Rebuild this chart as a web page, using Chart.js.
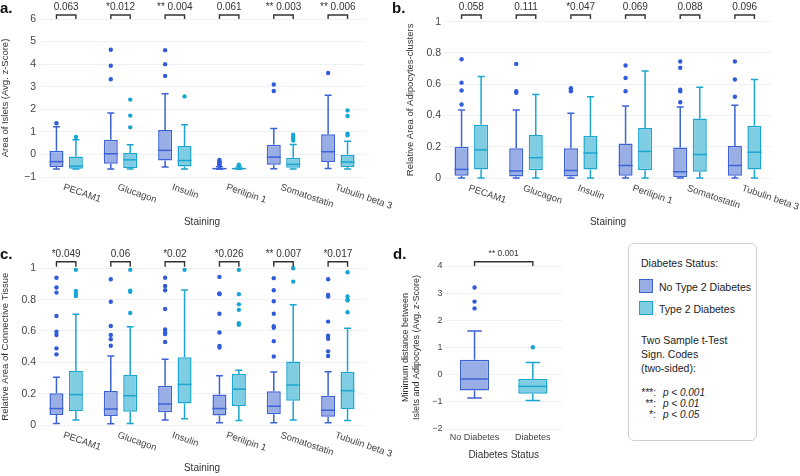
<!DOCTYPE html>
<html><head><meta charset="utf-8">
<script src="https://cdn.jsdelivr.net/npm/chart.js@4.4.1/dist/chart.umd.min.js"></script>
<style>
html,body{margin:0;padding:0;background:#fff;}
body{width:800px;height:476px;position:relative;overflow:hidden;font-family:'Liberation Sans',Arial,Helvetica,sans-serif;color:#222;}
canvas{position:absolute;}
.plbl{position:absolute;font-weight:bold;font-size:15px;color:#111;line-height:15px;}
#legend{position:absolute;left:628px;top:243px;width:127px;height:196px;border:1.5px solid #d0d0d0;border-radius:6px;font-size:10.5px;color:#222;}
#legend div{position:absolute;white-space:nowrap;line-height:12px;}
#legend .sw{width:12px;height:12px;}
#legend .code{font-size:10px;}
</style></head><body>
<canvas id="ca" width="400" height="236" style="left:0;top:0"></canvas>
<canvas id="cb" width="400" height="236" style="left:400px;top:0"></canvas>
<canvas id="cc" width="400" height="240" style="left:0;top:236px"></canvas>
<canvas id="cd" width="220" height="240" style="left:400px;top:236px"></canvas>
<div class="plbl" style="left:0;top:0">a.</div>
<div class="plbl" style="left:392px;top:0">b.</div>
<div class="plbl" style="left:0;top:246px">c.</div>
<div class="plbl" style="left:393px;top:246px">d.</div>
<div id="legend">
  <div style="left:12px;top:13px">Diabetes Status:</div>
  <div class="sw" style="left:10px;top:35px;background:#9aaee6;border:1.5px solid #3c62d6"></div>
  <div style="left:30px;top:37px">No Type 2 Diabetes</div>
  <div class="sw" style="left:10px;top:57px;background:#7ecde2;border:1.5px solid #1ba6cf"></div>
  <div style="left:30px;top:59px">Type 2 Diabetes</div>
  <div style="left:12px;top:90px">Two Sample t-Test</div>
  <div style="left:12px;top:104px">Sign. Codes</div>
  <div style="left:12px;top:118px">(two-sided):</div>
  <div class="code" style="right:100px;top:143px">***:</div>
  <div class="code" style="left:34px;top:143px;font-style:italic">p &lt; 0.001</div>
  <div class="code" style="right:100px;top:154px">**:</div>
  <div class="code" style="left:34px;top:154px;font-style:italic">p &lt; 0.01</div>
  <div class="code" style="right:100px;top:165px">*:</div>
  <div class="code" style="left:34px;top:165px;font-style:italic">p &lt; 0.05</div>
</div>
<script>
// ---------------- DATA ----------------
const stainings = ['PECAM1','Glucagon','Insulin','Perilipin 1','Somatostatin','Tubulin beta 3'];
const diabetesStatus = ['No Diabetes','Diabetes'];

// box stats: [lower whisker, q1, median, q3, upper whisker]
const isletsNoT2D = [[-0.65,-0.56,-0.32,0.16,1.23],[-0.65,-0.41,0.03,0.65,1.83],[-0.56,-0.27,0.18,1.08,2.69],[-0.66,-0.65,-0.63,-0.6,-0.55],[-0.64,-0.46,-0.12,0.43,1.15],[-0.62,-0.33,0.12,0.89,2.62]];
const isletsNoT2DOut = [[1.38],[4.64,3.93,3.33],[4.62,4.0,3.48],[-0.25,-0.3,-0.35,-0.4,-0.45,-0.5],[3.1,2.81],[3.61]];
const isletsT2D = [[-0.65,-0.64,-0.52,-0.09,0.65],[-0.65,-0.6,-0.24,0.06,0.43],[-0.65,-0.53,-0.27,0.37,1.32],[-0.66,-0.65,-0.63,-0.6,-0.56],[-0.65,-0.59,-0.44,-0.15,0.44],[-0.65,-0.56,-0.34,0.0,0.58]];
const isletsT2DOut = [[0.77],[2.43,1.72,1.2],[2.57],[-0.45,-0.5],[0.87,0.78,0.7,0.62],[1.95,1.7,0.92,0.85]];
const isletsP = ['0.063','*0.012','** 0.004','0.061','** 0.003','** 0.006'];

const adipoNoT2D = [[0,0.015,0.055,0.2,0.435],[0,0.01,0.045,0.19,0.435],[0,0.01,0.048,0.19,0.415],[0,0.015,0.08,0.22,0.46],[0,0.005,0.04,0.195,0.455],[0,0.015,0.08,0.205,0.465]];
const adipoNoT2DOut = [[0.76,0.61,0.56,0.47],[0.73,0.555,0.545],[0.575,0.565,0.555],[0.72,0.64,0.555],[0.745,0.705,0.565,0.555,0.485],[0.745,0.63,0.52]];
const adipoT2D = [[0,0.055,0.18,0.34,0.65],[0,0.05,0.13,0.275,0.535],[0,0.055,0.16,0.27,0.52],[0,0.05,0.17,0.32,0.685],[0,0.04,0.15,0.38,0.58],[0,0.055,0.165,0.335,0.63]];
const adipoT2DOut = [[],[],[],[],[],[]];
const adipoP = ['0.058','0.111','*0.047','0.069','0.088','0.096'];

const connNoT2D = [[0.01,0.064,0.105,0.202,0.304],[0.008,0.057,0.102,0.217,0.44],[0.032,0.081,0.134,0.251,0.42],[0.015,0.06,0.105,0.194,0.315],[0.015,0.068,0.12,0.215,0.338],[0.015,0.053,0.094,0.187,0.34]];
const connNoT2DOut = [[0.94,0.877,0.845,0.696,0.595,0.574,0.489,0.451],[0.93,0.787,0.632,0.574,0.547,0.506],[0.94,0.887,0.86,0.74,0.61,0.59,0.58,0.53],[0.945,0.84,0.835,0.71,0.59,0.505,0.495],[0.937,0.86,0.79,0.71,0.63,0.62,0.535,0.437],[0.93,0.83,0.82,0.66,0.57,0.55,0.47,0.44]];
const connT2D = [[0.032,0.089,0.194,0.345,0.706],[0.01,0.085,0.187,0.319,0.627],[0.04,0.138,0.259,0.432,0.862],[0.028,0.121,0.229,0.325,0.349],[0.032,0.155,0.255,0.406,0.768],[0.028,0.102,0.219,0.34,0.617]];
const connT2DOut = [[0.99,0.855,0.836,0.823],[0.99,0.857,0.85,0.715],[0.99],[0.99,0.835,0.77,0.735,0.65,0.64],[1.0,0.915],[0.975,0.82,0.8,0.795,0.72]];
const connP = ['*0.049','0.06','*0.02','*0.026','** 0.007','*0.017'];

const distStats = [[-0.86,-0.58,-0.16,0.55,1.61],[-0.95,-0.7,-0.43,-0.16,0.45]];
const distOut = [[3.21,2.69,2.44],[1.01]];
const distP = ['** 0.001'];

// ---------------- STYLE ----------------
const FONT = "'Liberation Sans', Arial, Helvetica, sans-serif";
const NO_FILL = '#9aaee6', NO_LINE = '#3c62d6', NO_DOT = '#2f5cd8';
const T2_FILL = '#7ecde2', T2_LINE = '#1ba6cf', T2_DOT = '#17a6d4';
const GRID = '#edf0f5';
Chart.defaults.font.family = FONT;
Chart.defaults.color = '#444';

function px(s, v){ return s.getPixelForValue(v); }
function col(c, i){ return Array.isArray(c) ? c[i] : c; }

const boxPlugin = {
  id: 'boxplot',
  beforeDatasetsDraw(chart){
    const ctx = chart.ctx, ys = chart.scales.y;
    chart.data.datasets.forEach((ds, di) => {
      const meta = chart.getDatasetMeta(di);
      meta.data.forEach((el, i) => {
        const s = ds.boxStats[i]; if(!s) return;
        const x = el.x, w = el.width, c = col(ds.lineColor, i);
        ctx.save(); ctx.strokeStyle = c; ctx.lineWidth = 1.5;
        ctx.beginPath();
        ctx.moveTo(x, px(ys, s[3])); ctx.lineTo(x, px(ys, s[4]));
        ctx.moveTo(x - w/4, px(ys, s[4])); ctx.lineTo(x + w/4, px(ys, s[4]));
        ctx.moveTo(x, px(ys, s[1])); ctx.lineTo(x, px(ys, s[0]));
        ctx.moveTo(x - w/4, px(ys, s[0])); ctx.lineTo(x + w/4, px(ys, s[0]));
        ctx.stroke(); ctx.restore();
      });
    });
  },
  afterDatasetsDraw(chart){
    const ctx = chart.ctx, ys = chart.scales.y;
    chart.data.datasets.forEach((ds, di) => {
      const meta = chart.getDatasetMeta(di);
      meta.data.forEach((el, i) => {
        const s = ds.boxStats[i]; if(!s) return;
        const x = el.x, w = el.width;
        ctx.save(); ctx.strokeStyle = col(ds.lineColor, i); ctx.lineWidth = 1.5;
        ctx.beginPath();
        ctx.moveTo(x - w/2, px(ys, s[2])); ctx.lineTo(x + w/2, px(ys, s[2]));
        ctx.stroke();
        ctx.fillStyle = col(ds.dotColor, i);
        (ds.outliers[i] || []).forEach(v => {
          ctx.beginPath(); ctx.arc(x, px(ys, v), 2.2, 0, Math.PI*2); ctx.fill();
        });
        ctx.restore();
      });
    });
  },
  afterDraw(chart, args, o){
    const ctx = chart.ctx, ca = chart.chartArea, xs = chart.scales.x;
    ctx.save();
    // significance brackets
    const pairs = [];
    if (o.mode === 'single') {
      const m = chart.getDatasetMeta(0).data;
      pairs.push([m[0].x, m[1].x]);
    } else {
      const m0 = chart.getDatasetMeta(0).data, m1 = chart.getDatasetMeta(1).data;
      m0.forEach((el, i) => pairs.push([el.x, m1[i].x]));
    }
    ctx.strokeStyle = '#333'; ctx.lineWidth = 1.4; ctx.fillStyle = '#333';
    ctx.font = o.pFont + 'px ' + FONT; ctx.textAlign = 'center'; ctx.textBaseline = 'middle';
    pairs.forEach((p, i) => {
      const yt = ca.top + o.brTop, yb = ca.top + o.brBot;
      ctx.beginPath();
      ctx.moveTo(p[0], yb); ctx.lineTo(p[0], yt); ctx.lineTo(p[1], yt); ctx.lineTo(p[1], yb);
      ctx.stroke();
      ctx.fillText(o.pLabels[i], (p[0] + p[1]) / 2, ca.top + o.textDy);
    });
    // rotated category labels
    if (o.rotated) {
      ctx.fillStyle = '#444'; ctx.font = '9.5px ' + FONT;
      ctx.textAlign = 'left'; ctx.textBaseline = 'top';
      xs.ticks.forEach((t, i) => {
        const x = xs.getPixelForTick(i);
        ctx.save(); ctx.translate(x - 1, ca.bottom + 5.5); ctx.rotate(19 * Math.PI / 180);
        ctx.fillText(xs.getLabelForValue(t.value), 0, 0); ctx.restore();
      });
    }
    // x-axis title
    ctx.fillStyle = '#333'; ctx.font = '10px ' + FONT; ctx.textAlign = 'center'; ctx.textBaseline = 'middle';
    ctx.fillText(o.xTitle, (ca.left + ca.right) / 2, ca.bottom + o.xTitleDy);
    ctx.restore();
  }
};

function yTick(v){ return String(Number(v.toFixed(2))).replace('-', '\u2212'); }

function makeChart(id, labels, datasets, cfg){
  new Chart(document.getElementById(id), {
    type: 'bar',
    data: { labels, datasets },
    plugins: [boxPlugin],
    options: {
      responsive: false, animation: false,
      layout: { padding: { left: 0, top: cfg.top, right: cfg.right, bottom: 0 } },
      datasets: { bar: { categoryPercentage: cfg.catPct, barPercentage: cfg.barPct, grouped: cfg.grouped } },
      plugins: {
        legend: { display: false }, tooltip: { enabled: false },
        boxplot: cfg.box
      },
      scales: {
        x: {
          type: 'category', grid: { display: false, drawTicks: false }, border: { display: false },
          ticks: cfg.xTicks || { display: false },
          afterFit: s => { s.height = cfg.xH; }
        },
        y: {
          min: cfg.min, max: cfg.max,
          ticks: { stepSize: cfg.step, padding: 3, font: { size: cfg.yTickSize }, color: '#444', callback: yTick },
          grid: { color: GRID, drawTicks: false, lineWidth: 1 },
          border: { display: false },
          title: { display: true, text: cfg.yTitle, color: '#333', font: { size: cfg.yTitleSize }, padding: { top: cfg.yTitlePad, bottom: 0 } },
          afterFit: s => { s.width = cfg.yW; }
        }
      }
    }
  });
}

function twoSets(noS, noO, t2S, t2O){
  return [
    { label: 'No Type 2 Diabetes', data: noS.map(s => [s[1], s[3]]), boxStats: noS, outliers: noO,
      backgroundColor: NO_FILL, borderColor: NO_LINE, borderWidth: 1.5, borderSkipped: false,
      lineColor: NO_LINE, dotColor: NO_DOT },
    { label: 'Type 2 Diabetes', data: t2S.map(s => [s[1], s[3]]), boxStats: t2S, outliers: t2O,
      backgroundColor: T2_FILL, borderColor: T2_LINE, borderWidth: 1.5, borderSkipped: false,
      lineColor: T2_LINE, dotColor: T2_DOT }
  ];
}

// a.
makeChart('ca', stainings, twoSets(isletsNoT2D, isletsNoT2DOut, isletsT2D, isletsT2DOut), {
  top: 19, right: 35, xH: 59, yW: 39, catPct: 0.715, barPct: 0.72, grouped: true,
  min: -1, max: 6, step: 1, yTickSize: 10.5, yTitle: 'Area of Islets (Avg. z-Score)', yTitleSize: 9.5, yTitlePad: 0,
  box: { mode: 'grouped', pLabels: isletsP, pFont: 10, brTop: -4, brBot: 0, textDy: -11.7, rotated: true, xTitle: 'Staining', xTitleDy: 45 }
});
// b.
makeChart('cb', stainings, twoSets(adipoNoT2D, adipoNoT2DOut, adipoT2D, adipoT2DOut), {
  top: 21.7, right: 28, xH: 58, yW: 44, catPct: 0.715, barPct: 0.72, grouped: true,
  min: 0, max: 1, step: 0.2, yTickSize: 10.5, yTitle: 'Relative Area of Adipocytes-clusters', yTitleSize: 9.5, yTitlePad: 5,
  box: { mode: 'grouped', pLabels: adipoP, pFont: 10, brTop: -6.7, brBot: -2.7, textDy: -14.4, rotated: true, xTitle: 'Staining', xTitleDy: 44 }
});
// c.
makeChart('cc', stainings, twoSets(connNoT2D, connNoT2DOut, connT2D, connT2DOut), {
  top: 32.3, right: 35, xH: 51, yW: 39, catPct: 0.715, barPct: 0.72, grouped: true,
  min: 0, max: 1, step: 0.2, yTickSize: 10.5, yTitle: 'Relative Area of Connective Tissue', yTitleSize: 9.5, yTitlePad: 0,
  box: { mode: 'grouped', pLabels: connP, pFont: 10, brTop: -6.6, brBot: -1.6, textDy: -14.3, rotated: true, xTitle: 'Staining', xTitleDy: 43 }
});
// d.
makeChart('cd', diabetesStatus, [
  { label: 'Diabetes Status', data: distStats.map(s => [s[1], s[3]]), boxStats: distStats, outliers: distOut,
    backgroundColor: [NO_FILL, T2_FILL], borderColor: [NO_LINE, T2_LINE], borderWidth: 1.5, borderSkipped: false,
    lineColor: [NO_LINE, T2_LINE], dotColor: [NO_DOT, T2_DOT] }
], {
  top: 30, right: 58, xH: 47, yW: 45.4, catPct: 1, barPct: 0.5, grouped: false,
  min: -2, max: 4, step: 1, yTickSize: 9, yTitle: ['Minimum distance between', 'Islets and Adipocytes (Avg. z-Score)'], yTitleSize: 9, yTitlePad: 0,
  xTicks: { display: true, font: { size: 9 }, padding: 3, color: '#444', maxRotation: 0, autoSkip: false },
  box: { mode: 'single', pLabels: distP, pFont: 8.5, brTop: -4.3, brBot: 0, textDy: -12.7, rotated: false, xTitle: 'Diabetes Status', xTitleDy: 26 }
});
</script>
</body></html>
